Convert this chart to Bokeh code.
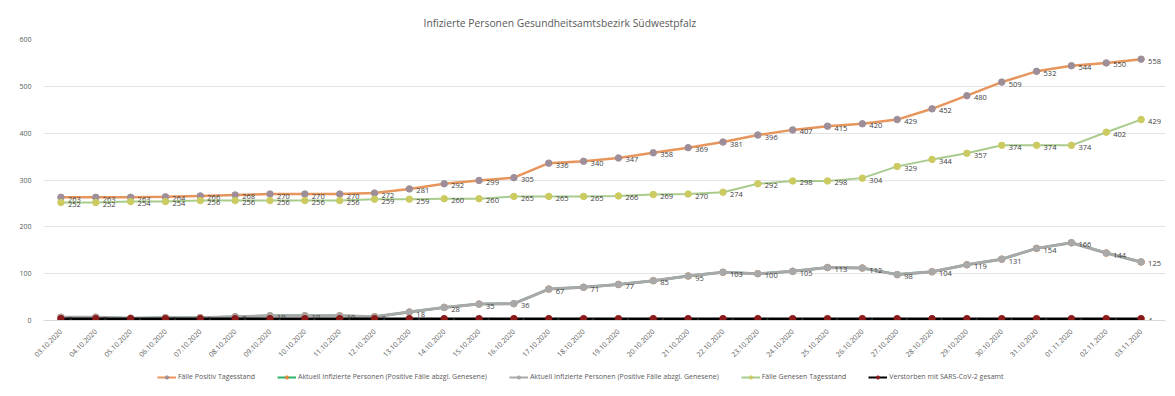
import math
from bokeh.plotting import figure
from bokeh.layouts import column
from bokeh.models import Legend, LegendItem, ColumnDataSource, FixedTicker, Range1d
from bokeh.core.properties import value
from bokeh.embed import file_html
from bokeh.resources import INLINE

dates = ["03.10.2020", "04.10.2020", "05.10.2020", "06.10.2020", "07.10.2020", "08.10.2020",
         "09.10.2020", "10.10.2020", "11.10.2020", "12.10.2020", "13.10.2020", "14.10.2020",
         "15.10.2020", "16.10.2020", "17.10.2020", "18.10.2020", "19.10.2020", "20.10.2020",
         "21.10.2020", "22.10.2020", "23.10.2020", "24.10.2020", "25.10.2020", "26.10.2020",
         "27.10.2020", "28.10.2020", "29.10.2020", "30.10.2020", "31.10.2020", "01.11.2020",
         "02.11.2020", "03.11.2020"]
positiv = [263, 263, 263, 264, 266, 268, 270, 270, 270, 272, 281, 292, 299, 305, 336, 340,
           347, 358, 369, 381, 396, 407, 415, 420, 429, 452, 480, 509, 532, 544, 550, 558]
genesen = [252, 252, 254, 254, 256, 256, 256, 256, 256, 259, 259, 260, 260, 265, 265, 265,
           266, 269, 270, 274, 292, 298, 298, 304, 329, 344, 357, 374, 374, 374, 402, 429]
aktuell = [7, 7, 5, 6, 6, 8, 10, 10, 10, 8, 18, 28, 35, 36, 67, 71,
           77, 85, 95, 103, 100, 105, 113, 112, 98, 104, 119, 131, 154, 166, 144, 125]
verstorben = [4] * 32
y_ticks = [0, 100, 200, 300, 400, 500, 600]
series_names = ["Fälle Positiv Tagesstand",
                "Aktuell Infizierte Personen (Positive Fälle abzgl. Genesene)",
                "Aktuell Infizierte Personen (Positive Fälle abzgl. Genesene)",
                "Fälle Genesen Tagesstand",
                "Verstorben mit SARS-CoV-2 gesamt"]

FONT = "Open Sans"
idx = list(range(len(dates)))

p = figure(width=1175, height=362, output_backend="svg", toolbar_location=None,
           x_range=Range1d(-0.5, 31.7), y_range=Range1d(0, 600),
           min_border_left=43, min_border_right=10, min_border_top=39, min_border_bottom=41,
           title="Infizierte Personen Gesundheitsamtsbezirk Südwestpfalz")
p.title.align = "left"
p.title.text_font = FONT
p.title.text_font_size = "10.3px"
p.title.text_font_style = "normal"
p.title.text_color = "#595959"
p.title.offset = 380
p.title.standoff = 20

p.outline_line_color = None
p.background_fill_color = "white"
p.border_fill_color = "white"

p.yaxis.ticker = FixedTicker(ticks=y_ticks)
p.yaxis.axis_line_color = None
p.yaxis.major_tick_line_color = None
p.yaxis.minor_tick_line_color = None
p.yaxis.major_label_text_font = FONT
p.yaxis.major_label_text_font_size = "7px"
p.yaxis.major_label_text_color = "#595959"
p.yaxis.major_label_standoff = 6

p.xaxis.ticker = FixedTicker(ticks=idx)
p.xaxis.major_label_overrides = {i: d for i, d in enumerate(dates)}
p.xaxis.major_label_orientation = math.pi / 4
p.xaxis.axis_line_color = "#d9d9d9"
p.xaxis.major_tick_line_color = None
p.xaxis.minor_tick_line_color = None
p.xaxis.major_label_text_font = FONT
p.xaxis.major_label_text_font_size = "7px"
p.xaxis.major_label_text_color = "#595959"
p.xaxis.major_label_standoff = 4

p.xgrid.grid_line_color = None
p.ygrid.grid_line_color = "#e3e3e3"
p.ygrid.grid_line_width = 1

styles = [
    ("#E6955C", "#9E8E9A", 2.5, True),
    ("#2DB36A", "#E8843A", 2.5, False),
    ("#A8A8A8", "#A8A8A8", 3, True),
    ("#A9CB8E", "#CCCB62", 2, True),
    ("#000000", "#8B1A1A", 2.5, True),
]
data = [positiv, aktuell, aktuell, genesen, verstorben]

# legend figure
lg = figure(width=1175, height=34, output_backend="svg", toolbar_location=None,
            x_range=Range1d(0, 1), y_range=Range1d(0, 1), x_axis_type=None, y_axis_type=None,
            min_border=0)
lg.outline_line_color = None
lg.grid.visible = False

items = []
for name, vals, (lc, mc, lw, lab) in zip(series_names, data, styles):
    src = ColumnDataSource(dict(x=idx, y=vals, t=[str(v) for v in vals]))
    p.line("x", "y", source=src, line_color=lc, line_width=lw)
    p.scatter("x", "y", source=src, size=6.5, fill_color=mc, line_color=mc)
    if lab:
        p.text("x", "y", text="t", source=src, x_offset=7, y_offset=2,
               text_font=value(FONT), text_font_size="7.5px", text_color="#404040",
               text_baseline="middle", text_align="left")
    far = ColumnDataSource(dict(x=[-5], y=[-5]))
    r1 = lg.line("x", "y", source=far, line_color=lc, line_width=2)
    r2 = lg.scatter("x", "y", source=far, size=6, fill_color=mc, line_color=mc)
    items.append(LegendItem(label=name, renderers=[r1, r2]))

legend = Legend(items=items, orientation="horizontal", location=(114, 15),
                label_text_font=FONT, label_text_font_size="7px", label_text_color="#595959",
                glyph_width=19, glyph_height=8, label_standoff=2, spacing=22,
                padding=2, margin=0, border_line_color=None, background_fill_alpha=0,
                label_height=8)
lg.add_layout(legend, "center")

layout = column(p, lg, spacing=0)
open("out.html", "w").write(file_html(layout, INLINE))
